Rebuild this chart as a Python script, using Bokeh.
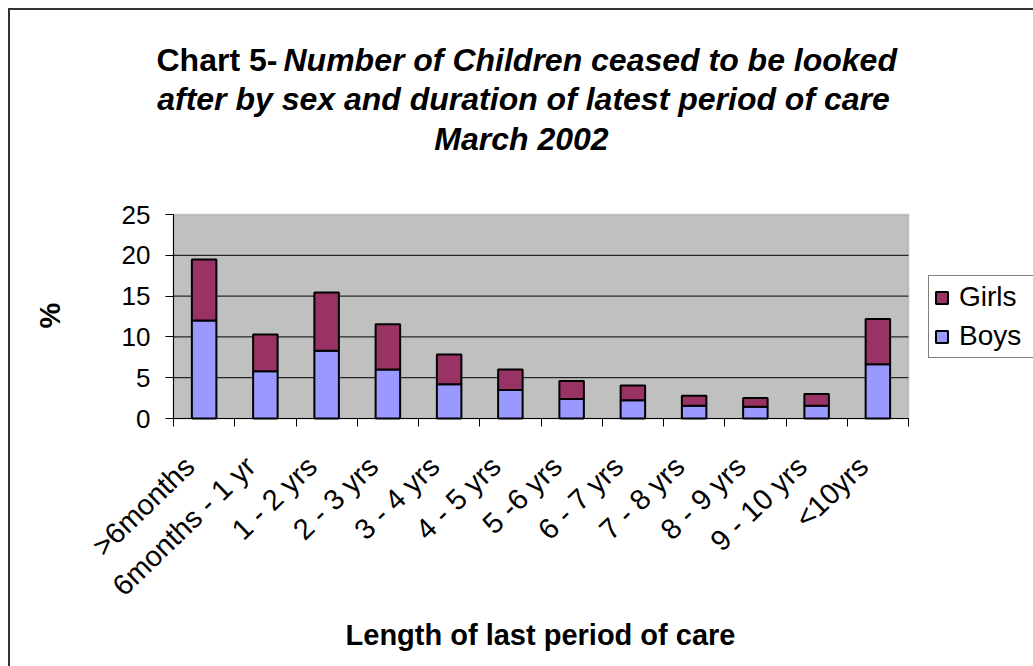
import math

from bokeh.plotting import figure
from bokeh.models import (ColumnDataSource, FixedTicker, Label, Legend, LegendItem,
                          Range1d, InlineStyleSheet, BoxAnnotation)
from bokeh.embed import file_html
from bokeh.resources import INLINE

# Length of last period of care (categories)
categories = [">6months", "6months - 1 yr", "1 - 2 yrs", "2 - 3 yrs", "3 - 4 yrs",
              "4 - 5 yrs", "5 -6 yrs", "6 - 7 yrs", "7 - 8 yrs", "8 - 9 yrs",
              "9 - 10 yrs", "<10yrs"]
# Percentages by sex
boys = [12.0, 5.8, 8.3, 6.0, 4.2, 3.5, 2.4, 2.25, 1.55, 1.45, 1.55, 6.65]
girls = [7.5, 4.5, 7.15, 5.55, 3.65, 2.5, 2.2, 1.8, 1.25, 1.05, 1.45, 5.55]
y_ticks = [0, 5, 10, 15, 20, 25]
grid_ticks = [5, 10, 15, 20]

FONT = "Liberation Sans"
BOYS_COLOR = "#9999FF"
GIRLS_COLOR = "#993366"

# page geometry (pixels): canvas size and the plot area inside it
W, H = 1033, 666
AREA_LEFT, AREA_RIGHT, AREA_TOP, AREA_BOTTOM = 173, 908, 214, 418

n = len(categories)
y_max = y_ticks[-1]
centers = [i + 0.5 for i in range(n)]
source = ColumnDataSource(dict(x=centers, Boys=boys, Girls=girls))

# the frame fills the whole canvas; the ranges are widened so that the
# category axis 0..n and the value axis 0..25 land on the plot area
px_x = (AREA_RIGHT - AREA_LEFT) / n
px_y = (AREA_BOTTOM - AREA_TOP) / y_max
x_range = Range1d(-AREA_LEFT / px_x, n + (W - AREA_RIGHT) / px_x)
y_range = Range1d(-(H - AREA_BOTTOM) / px_y, y_max + AREA_TOP / px_y)

# thin dark frame round the whole chart (top and left edges are visible)
frame_css = InlineStyleSheet(css="""
:host::after {
  content: "";
  position: absolute;
  left: 8px; top: 8px;
  width: calc(100% - 8px); height: calc(100% - 8px);
  border-left: 2px solid #333333; border-top: 2px solid #333333;
  box-sizing: border-box;
  pointer-events: none;
  z-index: 100;
}
""")

p = figure(width=W, height=H, output_backend="svg", toolbar_location=None,
           x_range=x_range, y_range=y_range,
           min_border_left=0, min_border_right=0, min_border_top=0, min_border_bottom=0,
           background_fill_color="white", border_fill_color="white",
           outline_line_color=None, stylesheets=[frame_css])
p.xgrid.visible = False
p.ygrid.visible = False

# grey plot area
p.add_layout(BoxAnnotation(left=0, right=n, bottom=0, top=y_max,
                           fill_color="#C0C0C0", fill_alpha=1,
                           line_color="#808080", line_width=2, level="image"))

# horizontal gridlines across the plot area
p.segment(x0=[0] * len(grid_ticks), x1=[n] * len(grid_ticks), y0=grid_ticks, y1=grid_ticks,
          line_color="black", line_width=1, level="underlay")

renderers = p.vbar_stack(["Boys", "Girls"], x="x", width=0.4, source=source,
                         fill_color=[BOYS_COLOR, GIRLS_COLOR],
                         line_color="black", line_width=2)

# y axis
yax = p.yaxis[0]
yax.fixed_location = 0
yax.bounds = (0, y_max)
yax.ticker = FixedTicker(ticks=y_ticks)
yax.major_label_text_font = FONT
yax.major_label_text_font_size = "26px"
yax.major_label_text_color = "black"
yax.major_tick_out = 8
yax.major_tick_in = 0
yax.major_label_standoff = 15
yax.minor_tick_line_color = None
yax.axis_line_color = "black"
yax.major_tick_line_color = "black"

# x axis: labels near the category centres, tick marks on the boundaries
label_pos = [round(c - 0.24, 3) for c in centers]
xax = p.xaxis[0]
xax.fixed_location = 0
xax.bounds = (0, n)
xax.ticker = FixedTicker(ticks=label_pos, minor_ticks=list(range(n + 1)))
xax.major_label_overrides = {pos: cat for pos, cat in zip(label_pos, categories)}
xax.major_label_orientation = math.radians(44)
xax.major_label_text_font = FONT
xax.major_label_text_font_size = "29px"
xax.major_label_text_color = "black"
xax.major_tick_line_color = None
xax.major_tick_out = 0
xax.major_tick_in = 0
xax.major_label_standoff = 35
xax.minor_tick_line_color = "black"
xax.minor_tick_out = 8
xax.minor_tick_in = 0
xax.axis_line_color = "black"

legend = Legend(items=[LegendItem(label="Girls", renderers=[renderers[1]]),
                       LegendItem(label="Boys", renderers=[renderers[0]])],
                location=(928, 308), label_text_font=FONT, label_text_font_size="28px",
                label_text_color="black",
                glyph_width=15, glyph_height=15, label_height=30, label_width=70,
                spacing=7, padding=5, margin=0, label_standoff=10,
                border_line_color="black", border_line_width=1,
                background_fill_color="white", background_fill_alpha=1)
p.add_layout(legend)


def text(x, y, s, size, style="bold", align="left", angle=0, baseline="alphabetic"):
    p.add_layout(Label(x=x, y=y, x_units="canvas", y_units="canvas", text=s,
                       text_font=FONT, text_font_size=size, text_font_style=style,
                       text_align=align, text_baseline=baseline, angle=angle,
                       text_color="black"))


# title
text(156, 59, "Chart 5-", "32px", "bold")
text(283, 59, "Number of Children ceased to be looked", "32px", "bold italic")
text(523, 98, "after by sex and duration of latest period of care", "32px",
     "bold italic", align="center")
text(521, 138, "March 2002", "32px", "bold italic", align="center")

# axis titles
text(540, 634, "Length of last period of care", "29px", "bold", align="center")
text(49, 315, "%", "29px", "bold", align="center", angle=math.pi / 2, baseline="middle")

open("out.html", "w").write(file_html(p, INLINE))
